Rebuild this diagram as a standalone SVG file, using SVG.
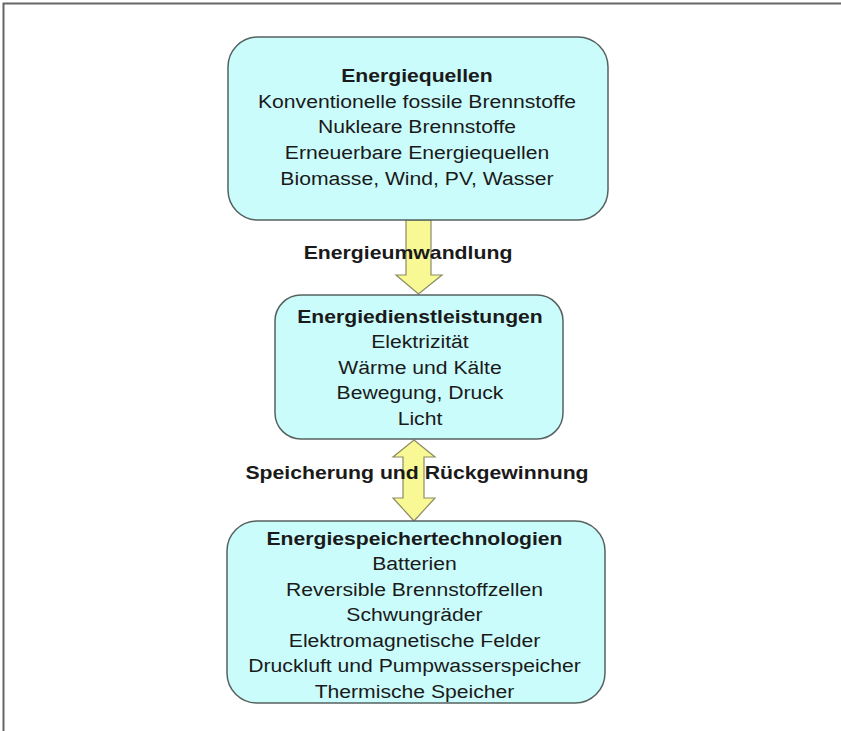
<svg xmlns="http://www.w3.org/2000/svg" width="841" height="731" viewBox="0 0 841 731">
  <style>
    .frame { stroke: #666; stroke-width: 2; fill: none; }
    .box { fill: #cbfcfc; stroke: #56625f; stroke-width: 1.5; }
    .arrow { fill: #f8f894; stroke: #8c8c62; stroke-width: 1.2; stroke-linejoin: miter; }
    text { font-family: "Liberation Sans", Arial, sans-serif; font-size: 18px; fill: #1a1a1a; text-anchor: middle; }
    .b { font-weight: bold; }
  </style>
  <rect width="841" height="731" fill="#ffffff"/>
  <!-- page frame: top and left edges only -->
  <path class="frame" d="M3.5,731 V3.5 H841"/>

  <g id="connectors">
    <!-- single arrow: Energiequellen -> Energiedienstleistungen -->
    <path class="arrow" d="M406,220 H431 V275 H442 L418.5,294 L396,275 H406 Z"/>
    <!-- double arrow: Energiedienstleistungen <-> Energiespeichertechnologien -->
    <path class="arrow" d="M414,440 L435,457 H424 V498 H435 L414,521 L393,498 H403 V457 H393 Z"/>
    <g transform="translate(408 0) scale(1.18 1)">
      <text class="b" x="0" y="259">Energieumwandlung</text>
    </g>
    <g transform="translate(417 0) scale(1.18 1)">
      <text class="b" x="0" y="479">Speicherung und Rückgewinnung</text>
    </g>
  </g>

  <g id="energiequellen">
    <rect class="box" x="228" y="37" width="380" height="183" rx="30" ry="30"/>
    <g transform="translate(417 0) scale(1.175 1)">
      <text class="b" x="0" y="82">Energiequellen</text>
      <text x="0" y="107.8">Konventionelle fossile Brennstoffe</text>
      <text x="0" y="133.5">Nukleare Brennstoffe</text>
      <text x="0" y="159.3">Erneuerbare Energiequellen</text>
      <text x="0" y="185">Biomasse, Wind, PV, Wasser</text>
    </g>
  </g>

  <g id="energiedienstleistungen">
    <rect class="box" x="275" y="295" width="288" height="144" rx="26" ry="26"/>
    <g transform="translate(420 0) scale(1.175 1)">
      <text class="b" x="0" y="323">Energiedienstleistungen</text>
      <text x="0" y="348.5">Elektrizität</text>
      <text x="0" y="374">Wärme und Kälte</text>
      <text x="0" y="399.5">Bewegung, Druck</text>
      <text x="0" y="425">Licht</text>
    </g>
  </g>

  <g id="energiespeichertechnologien">
    <rect class="box" x="227" y="521" width="378" height="182" rx="30" ry="30"/>
    <g transform="translate(414.5 0) scale(1.175 1)">
      <text class="b" x="0" y="545">Energiespeichertechnologien</text>
      <text x="0" y="570.5">Batterien</text>
      <text x="0" y="596">Reversible Brennstoffzellen</text>
      <text x="0" y="621.5">Schwungräder</text>
      <text x="0" y="647">Elektromagnetische Felder</text>
      <text x="0" y="672.5">Druckluft und Pumpwasserspeicher</text>
      <text x="0" y="698">Thermische Speicher</text>
    </g>
  </g>
</svg>
